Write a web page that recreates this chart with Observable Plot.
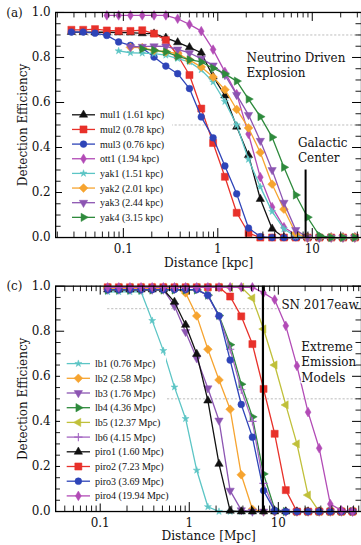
<!DOCTYPE html>
<html><head><meta charset="utf-8">
<script src="https://cdn.jsdelivr.net/npm/d3@7"></script>
<script src="https://cdn.jsdelivr.net/npm/@observablehq/plot@0.6"></script>
<style>
html,body{margin:0;padding:0;background:#fff;}
#wrap{position:relative;width:361px;height:545px;overflow:hidden;}
#wrap svg{display:block;}
.ov{position:absolute;left:0;top:0;pointer-events:none;}
</style></head><body><div id="wrap"></div>
<script>
// ---------- data: panel (a), distances in kpc ----------
const distKpc = [0.02818,0.03758,0.05012,0.06683,0.08913,0.1189,0.1585,0.2113,0.2818,0.3758,0.5012,0.6683,0.8913,1.1885,1.5849,2.1135,2.8184,3.7584,5.0119,6.6834,8.9125,11.885,15.849,21.135,28.184];
const mul1 = [0.913,0.913,0.912,0.912,0.911,0.910,0.907,0.906,0.887,0.867,0.845,0.821,0.715,0.631,0.492,0.366,0.171,0.039,0,0,0,0,0,0,0];
const mul2 = [0.923,0.923,0.926,0.920,0.918,0.918,0.921,0.906,0.877,0.810,0.722,0.573,0.420,0.270,0.110,0.020,0,0,0,0,0,0,0,0,0];
const mul3 = [0.913,0.913,0.908,0.898,0.869,0.854,0.842,0.802,0.762,0.728,0.662,0.536,0.443,0.318,0.194,0.042,0.004,0,0,0,0,0,0,0,0];
const ott1 = [null,null,null,0.987,0.987,0.987,0.987,0.987,0.987,0.972,0.947,0.917,0.835,0.736,0.637,0.460,0.268,0.135,0.046,0.012,0,0,0,0,0];
const yak1 = [null,null,null,null,0.829,0.821,0.819,0.817,0.810,0.795,0.780,0.745,0.691,0.604,0.500,0.347,0.225,0.115,0.038,0.005,0,0,0,0,0];
const yak2 = [null,null,null,null,null,0.845,0.844,0.832,0.825,0.818,0.788,0.758,0.713,0.657,0.569,0.487,0.378,0.237,0.126,0.019,0,0,0,0,0];
const yak3 = [null,null,null,null,null,0.847,0.848,0.850,0.849,0.836,0.820,0.795,0.765,0.722,0.634,0.545,0.430,0.300,0.155,0.034,0,0,0,0,0];
const yak4 = [null,null,null,null,null,null,0.838,0.832,0.825,0.805,0.790,0.780,0.752,0.727,0.695,0.615,0.537,0.446,0.312,0.189,0.090,0.009,0,0,0];
const labelsA = ["mul1 (1.61 kpc)","mul2 (0.78 kpc)","mul3 (0.76 kpc)","ott1 (1.94 kpc)","yak1 (1.51 kpc)","yak2 (2.01 kpc)","yak3 (2.44 kpc)","yak4 (3.15 kpc)"];

// ---------- data: panel (c), distances in Mpc ----------
const distMpc = [0.1213,0.1618,0.2158,0.2877,0.3837,0.5117,0.6823,0.9099,1.2134,1.6181,2.1577,2.8774,3.8371,5.1168,6.8234,9.0991,12.134,16.181,21.577,28.774,38.371,51.168,68.234];
const lb1 = [0.975,0.975,0.975,0.975,0.847,0.714,0.552,0.412,0.183,0.021,0,0,0,0,0,0,0,0,0,0,0,0,0];
const lb2 = [0.990,0.990,0.990,0.990,0.990,0.990,0.990,0.970,0.868,0.720,0.584,0.454,0.163,0.010,0,0,0,0,0,0,0,0,0];
const lb3 = [0.985,0.985,0.985,0.985,0.985,0.985,0.912,0.797,0.680,0.547,0.404,0.093,0.006,0,0,0,0,0,0,0,0,0,0];
const lb4 = [0.983,0.983,0.983,0.983,0.983,0.983,0.983,0.983,0.983,0.960,0.870,0.740,0.565,0.420,0.167,0.010,0,0,0,0,0,0,0];
const lb5 = [0.995,0.995,0.995,0.995,0.995,0.995,0.995,0.995,0.995,0.995,0.995,0.995,0.995,0.947,0.810,0.650,0.473,0.300,0.073,0,0,0,0];
const lb6 = [0.985,0.985,0.985,0.985,0.985,0.985,0.985,0.985,0.985,0.958,0.866,0.720,0.540,0.400,0.125,0.005,0,0,0,0,0,0,0];
const piro1 = [0.985,0.985,0.985,0.985,0.985,0.985,0.930,0.828,0.699,0.492,0.211,0.003,0,0,0,0,0,0,0,0,0,0,0];
const piro2 = [0.995,0.995,0.995,0.995,0.995,0.995,0.995,0.995,0.995,0.995,0.995,0.954,0.866,0.743,0.544,0.345,0.095,0,0,0,0,0,0];
const piro3 = [0.985,0.985,0.985,0.985,0.985,0.985,0.985,0.985,0.985,0.960,0.868,0.672,0.475,0.330,0.093,0.004,0,0,0,0,0,0,0];
const piro4 = [0.995,0.995,0.995,0.995,0.995,0.995,0.995,0.995,0.995,0.995,0.995,0.995,0.995,0.995,0.970,0.940,0.824,0.646,0.441,0.281,0.033,0.005,0];
const labelsC = ["lb1 (0.76 Mpc)","lb2 (2.58 Mpc)","lb3 (1.76 Mpc)","lb4 (4.36 Mpc)","lb5 (12.37 Mpc)","lb6 (4.15 Mpc)","piro1 (1.60 Mpc)","piro2 (7.23 Mpc)","piro3 (3.69 Mpc)","piro4 (19.94 Mpc)"];

// ---------- ticks & references ----------
const xMajor = [0.1, 1, 10];
const xMinorA = [0.02,0.03,0.04,0.05,0.06,0.07,0.08,0.09,0.2,0.3,0.4,0.5,0.6,0.7,0.8,0.9,2,3,4,5,6,7,8,9,20,30];
const xMinorC = [0.04,0.05,0.06,0.07,0.08,0.09,0.2,0.3,0.4,0.5,0.6,0.7,0.8,0.9,2,3,4,5,6,7,8,9,20,30,40,50,60,70,80];
const yMajor = [0,0.2,0.4,0.6,0.8,1.0];
const yMinor = [0.05,0.1,0.15,0.25,0.3,0.35,0.45,0.5,0.55,0.65,0.7,0.75,0.85,0.9,0.95];
const refLevels = [0.9, 0.5];
const galacticCenterKpc = 8.5;
const sn2017eawMpc = 6.72;

// ---------- styling ----------
const C = {black:"#111111", red:"#e8312a", blue:"#2e44b8", magenta:"#b24bb6", cyan:"#5cc5c5",
  orange:"#f6a430", purple:"#8c55b2", green:"#2e8a3c", olive:"#c0c03a", lilac:"#a466c2"};
function triSym(deg){ const a = deg*Math.PI/180, c = Math.cos(a), s = Math.sin(a);
  return {draw(ctx, size){ const y = -Math.sqrt(size/(Math.sqrt(3)*3));
    const p = [[0,y*2],[-Math.sqrt(3)*y,-y],[Math.sqrt(3)*y,-y]].map(([x,yy])=>[x*c-yy*s, x*s+yy*c]);
    ctx.moveTo(p[0][0],p[0][1]); ctx.lineTo(p[1][0],p[1][1]); ctx.lineTo(p[2][0],p[2][1]); ctx.closePath(); }}; }
const symUp = triSym(0), symDown = triSym(180), symRight = triSym(90), symLeft = triSym(-90);
const symThinDiamond = {draw(ctx,size){ const h = Math.sqrt(size/1.2), w = 0.6*h; ctx.moveTo(0,-h); ctx.lineTo(w,0); ctx.lineTo(0,h); ctx.lineTo(-w,0); ctx.closePath(); }};
const symDiamond = {draw(ctx,size){ const h = Math.sqrt(size/2); ctx.moveTo(0,-h); ctx.lineTo(h,0); ctx.lineTo(0,h); ctx.lineTo(-h,0); ctx.closePath(); }};

const seriesA = [
  {values:mul1, color:C.black, sym:symUp, r:3.1},
  {values:mul2, color:C.red, sym:d3.symbolSquare, r:4.0},
  {values:mul3, color:C.blue, sym:d3.symbolCircle, r:3.4},
  {values:ott1, color:C.magenta, sym:symThinDiamond, r:3.0},
  {values:yak1, color:C.cyan, sym:d3.symbolStar, r:2.2},
  {values:yak2, color:C.orange, sym:symDiamond, r:3.5},
  {values:yak3, color:C.purple, sym:symDown, r:3.1},
  {values:yak4, color:C.green, sym:symRight, r:3.1}
].map((s,i)=>({...s, label:labelsA[i]}));
const seriesC = [
  {values:lb1, color:C.cyan, sym:d3.symbolStar, r:2.2},
  {values:lb2, color:C.orange, sym:symDiamond, r:3.5},
  {values:lb3, color:C.purple, sym:symDown, r:3.1},
  {values:lb4, color:C.green, sym:symRight, r:3.1},
  {values:lb5, color:C.olive, sym:symLeft, r:3.1},
  {values:lb6, color:C.lilac, sym:d3.symbolPlus, r:2.8, plus:true},
  {values:piro1, color:C.black, sym:symUp, r:3.1},
  {values:piro2, color:C.red, sym:d3.symbolSquare, r:4.0},
  {values:piro3, color:C.blue, sym:d3.symbolCircle, r:3.4},
  {values:piro4, color:C.magenta, sym:symThinDiamond, r:3.0}
].map((s,i)=>({...s, label:labelsC[i]}));

const W = 362, ML = 55.3;
const FONT = "DejaVu Serif";

function panel(cfg){
  const innerW = W - ML, innerH = cfg.height - cfg.mt - cfg.mb;
  const marks = [];
  marks.push(Plot.ruleY(refLevels, {y:d=>d, x1:cfg.grid[0], x2:cfg.domain[1], stroke:"#b5b5b5", strokeWidth:0.9, strokeDasharray:"2.2,1.8"}));
  for (const s of cfg.series){
    const rows = cfg.grid.map((d,i)=>({d, v:s.values[i]})).filter(r=>r.v!=null);
    marks.push(Plot.line(rows, {x:"d", y:"v", stroke:s.color, strokeWidth:1.3}));
    marks.push(Plot.dot(rows, {x:"d", y:"v", symbol:s.sym, r:s.r, fill:s.plus?"none":s.color, stroke:s.color, strokeWidth:s.plus?1.1:0.5}));
  }
  marks.push(...cfg.extra);
  // ticks (inward)
  marks.push(Plot.tickX(xMajor, {x:d=>d, insetTop:innerH-9, stroke:"#000", strokeWidth:1}));
  marks.push(Plot.tickX(cfg.xMinor, {x:d=>d, insetTop:innerH-5.5, stroke:"#000", strokeWidth:0.9}));
  marks.push(Plot.tickX(xMajor, {x:d=>d, insetBottom:innerH-9, stroke:"#000", strokeWidth:1}));
  marks.push(Plot.tickX(cfg.xMinor, {x:d=>d, insetBottom:innerH-5.5, stroke:"#000", strokeWidth:0.9}));
  marks.push(Plot.tickY(yMajor, {y:d=>d, insetRight:innerW-9, stroke:"#000", strokeWidth:1}));
  marks.push(Plot.tickY(yMinor, {y:d=>d, insetRight:innerW-5.5, stroke:"#000", strokeWidth:0.9}));
  marks.push(Plot.tickY(yMajor, {y:d=>d, insetLeft:innerW-9, stroke:"#000", strokeWidth:1}));
  marks.push(Plot.tickY(yMinor, {y:d=>d, insetLeft:innerW-5.5, stroke:"#000", strokeWidth:0.9}));
  marks.push(Plot.axisX({ticks:xMajor, tickSize:0, tickPadding:7, tickFormat:d=>String(d), label:null, fontSize:12}));
  marks.push(Plot.axisY({ticks:yMajor, tickSize:0, tickPadding:5, tickFormat:d3.format(".1f"), label:null, fontSize:12}));
  marks.push(Plot.frame({stroke:"#000", strokeWidth:1.3}));
  marks.push(Plot.text([cfg.xlabel], {frameAnchor:"bottom", dy:cfg.xlabelDy, textAnchor:"middle", lineAnchor:"middle", fontSize:12.2, fill:"#111"}));
  marks.push(Plot.text(["Detection Efficiency"], {frameAnchor:"left", dx:-32.5, rotate:-90, textAnchor:"middle", lineAnchor:"middle", fontSize:12, fill:"#111"}));
  marks.push(Plot.text([cfg.tag], {frameAnchor:"top-left", dx:-41.3, dy:cfg.tagDy, textAnchor:"middle", lineAnchor:"middle", fontSize:12, fill:"#111"}));
  return Plot.plot({
    width:W, height:cfg.height, marginTop:cfg.mt, marginBottom:cfg.mb, marginLeft:ML, marginRight:0,
    style:{fontFamily:FONT, fontSize:"12px", background:"transparent", color:"#111"},
    x:{type:"log", domain:cfg.domain, axis:null},
    y:{domain:[0,1], axis:null},
    marks
  });
}

// annotation placements (data coordinates)
const noteA = [{x:2.01, y:0.826, text:"Neutrino Driven\nExplosion"}, {x:7.05, y:0.449, text:"Galactic\nCenter"}];
const noteC = [{x:10.83, y:0.944, text:"SN 2017eaw"}, {x:18.15, y:0.758, text:"Extreme\nEmission\nModels"}];
const noteStyle = {x:"x", y:"y", text:"text", textAnchor:"start", lineAnchor:"top", lineHeight:1.26, fontSize:12, fill:"#111", stroke:"white", strokeWidth:3};

const plotA = panel({
  height:272, mt:12, mb:34.3, domain:[0.0192, 33.2], grid:distKpc, series:seriesA, xMinor:xMinorA,
  xlabel:"Distance [kpc]", xlabelDy:26, tag:"(a)", tagDy:0.5,
  extra:[
    Plot.ruleX([galacticCenterKpc], {x:d=>d, y1:0, y2:0.3, stroke:"#000", strokeWidth:2}),
    Plot.text(noteA, noteStyle)
  ]
});
const plotC = panel({
  height:273, mt:14.7, mb:32.3, domain:[0.0316, 85.9], grid:distMpc, series:seriesC, xMinor:xMinorC,
  xlabel:"Distance [Mpc]", xlabelDy:24.5, tag:"(c)", tagDy:0.3,
  extra:[
    Plot.ruleX([sn2017eawMpc], {x:d=>d, stroke:"#000", strokeWidth:2.2}),
    Plot.text(noteC, noteStyle)
  ]
});
const wrap = document.getElementById("wrap");
wrap.appendChild(plotA);
wrap.appendChild(plotC);

// ---------- legends (overlay) ----------
const ov = d3.select(wrap).append("svg").attr("class","ov").attr("width",361).attr("height",545);
function legend(items, o){
  ov.append("rect").attr("x",o.rx).attr("y",o.ry).attr("width",o.rw).attr("height",o.rh).attr("fill","white");
  items.forEach((s,i)=>{
    const y = o.y0 + i*o.dy, xm = (o.x0+o.x1)/2;
    ov.append("line").attr("x1",o.x0).attr("x2",o.x1).attr("y1",y).attr("y2",y).attr("stroke",s.color).attr("stroke-width",1.3);
    ov.append("path").attr("d", d3.symbol(s.sym, Math.PI*s.r*s.r)()).attr("transform",`translate(${xm},${y})`)
      .attr("fill", s.plus?"none":s.color).attr("stroke", s.color).attr("stroke-width", s.plus?1.1:0.5);
    ov.append("text").attr("x",o.xt).attr("y",y).attr("dy","0.35em").text(s.label)
      .style("font-family","Liberation Serif").style("font-size","10px").attr("fill","#111");
  });
}
legend(seriesA, {rx:62, ry:106, rw:110, rh:120, y0:114.8, dy:14.65, x0:72, x1:95, xt:100});
legend(seriesC, {rx:60, ry:355.5, rw:106, rh:148, y0:363.6, dy:14.7, x0:66.7, x1:90, xt:95});
</script></body></html>
